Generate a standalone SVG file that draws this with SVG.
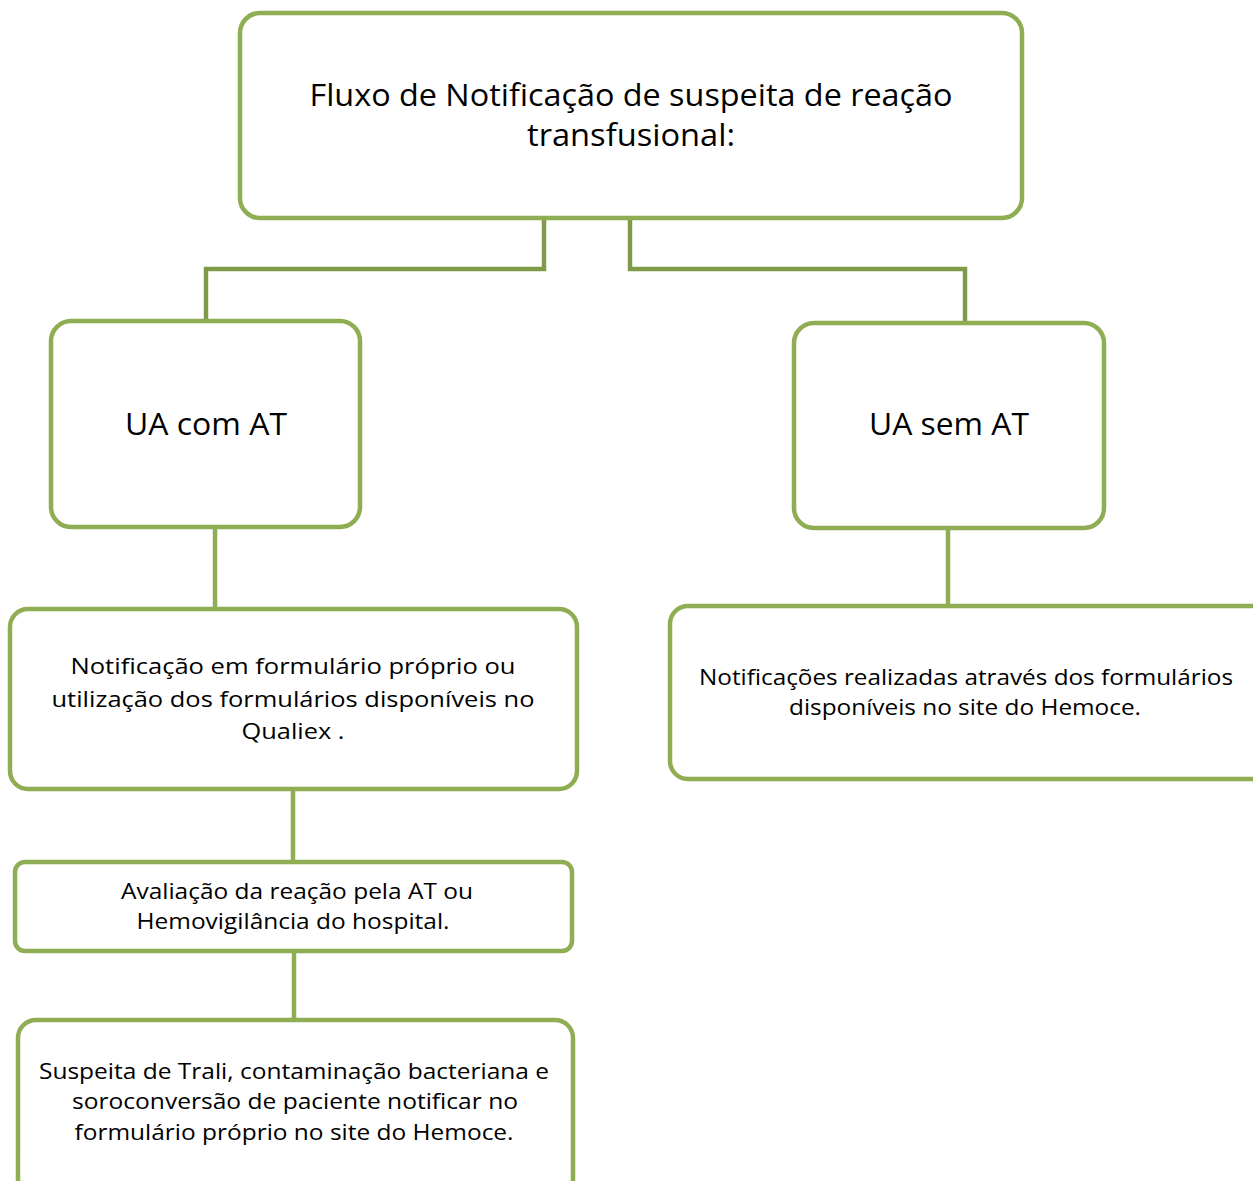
<svg xmlns="http://www.w3.org/2000/svg" width="1253" height="1181" viewBox="0 0 1253 1181">
<style>
.box{fill:#fff;stroke:#8FAD52;stroke-width:4.5}
.con{fill:none;stroke:#8FAD52;stroke-width:4.5}
.con2{fill:none;stroke:#7F9A48;stroke-width:4.5}
text{font-family:"Open Sans","Liberation Sans",sans-serif;fill:#000;text-anchor:middle}
.t{font-size:31px}
.s{font-size:22px}
</style>
<rect width="1253" height="1181" fill="#fff"/>
<g id="connectors">
<path class="con2" d="M544 218V269H206V321"/>
<path class="con2" d="M630 218V269H965V323"/>
<path class="con" d="M215 527V609"/>
<path class="con" d="M948 528V606"/>
<path class="con" d="M293 789V862"/>
<path class="con" d="M294 951V1020"/>
</g>
<g id="n1"><rect class="box" x="240" y="13" width="782" height="205" rx="20"/>
<text class="t" x="631" y="106" textLength="643" lengthAdjust="spacingAndGlyphs">Fluxo de Notificação de suspeita de reação</text>
<text class="t" x="631" y="146" textLength="208" lengthAdjust="spacingAndGlyphs">transfusional:</text></g>
<g id="n2"><rect class="box" x="51" y="321" width="309" height="206" rx="20"/>
<text class="t" x="206" y="435" textLength="162" lengthAdjust="spacingAndGlyphs">UA com AT</text></g>
<g id="n3"><rect class="box" x="794" y="323" width="310" height="205" rx="20"/>
<text class="t" x="949" y="435" textLength="160" lengthAdjust="spacingAndGlyphs">UA sem AT</text></g>
<g id="n4"><rect class="box" x="10" y="609" width="567" height="180" rx="18"/>
<text class="s" x="293" y="674" textLength="445" lengthAdjust="spacingAndGlyphs">Notificação em formulário próprio ou</text>
<text class="s" x="293" y="707" textLength="483" lengthAdjust="spacingAndGlyphs">utilização dos formulários disponíveis no</text>
<text class="s" x="293" y="739" textLength="103" lengthAdjust="spacingAndGlyphs">Qualiex .</text></g>
<g id="n5"><rect class="box" x="670" y="606" width="600" height="173" rx="18"/>
<text class="s" x="966" y="685" textLength="534" lengthAdjust="spacingAndGlyphs">Notificações realizadas através dos formulários</text>
<text class="s" x="965" y="715" textLength="352" lengthAdjust="spacingAndGlyphs">disponíveis no site do Hemoce.</text></g>
<g id="n6"><rect class="box" x="15" y="862" width="557" height="89" rx="10"/>
<text class="s" x="297" y="899" textLength="352" lengthAdjust="spacingAndGlyphs">Avaliação da reação pela AT ou</text>
<text class="s" x="293" y="929" textLength="313" lengthAdjust="spacingAndGlyphs">Hemovigilância do hospital.</text></g>
<g id="n7"><rect class="box" x="18" y="1020" width="555" height="180" rx="18"/>
<text class="s" x="294" y="1079" textLength="510" lengthAdjust="spacingAndGlyphs">Suspeita de Trali, contaminação bacteriana e</text>
<text class="s" x="295" y="1109" textLength="446" lengthAdjust="spacingAndGlyphs">soroconversão de paciente notificar no</text>
<text class="s" x="294" y="1140" textLength="439" lengthAdjust="spacingAndGlyphs">formulário próprio no site do Hemoce.</text></g>
</svg>
